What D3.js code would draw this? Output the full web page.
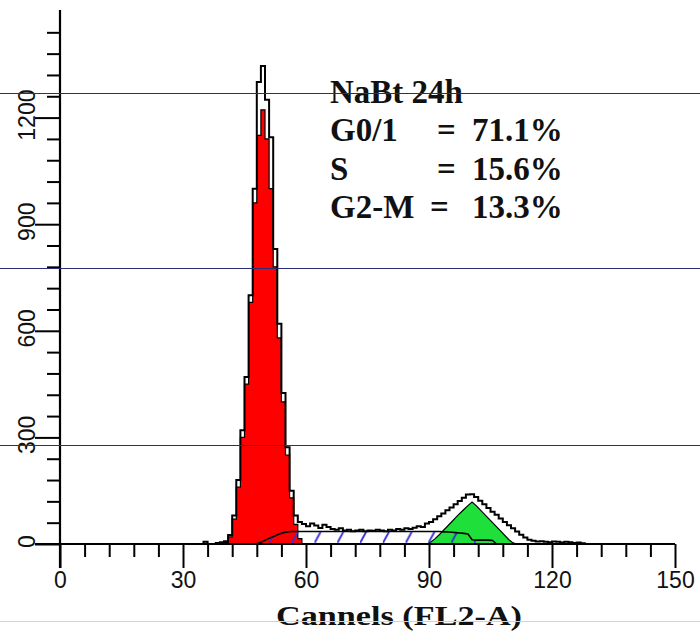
<!DOCTYPE html>
<html>
<head>
<meta charset="utf-8">
<script src="https://cdnjs.cloudflare.com/ajax/libs/d3/7.8.5/d3.min.js"></script>
<style>
body { margin: 0; background: #fff; }
</style>
</head>
<body>
<div id="chart"></div>
<script>
var svgWidth = 700;
var svgHeight = 639;

// raw histogram counts, one per channel, first one is channel 34
var dataStart = 34;
var dataCounts = [0, 6, 0, 0, 3, 5, 8, 25, 80, 180,
	320, 470, 700, 1000, 1300, 1345, 1250, 1145, 830, 620,
	425, 272, 150, 80, 62, 56, 50, 58, 52, 45,
	54, 48, 42, 40, 44, 38, 40, 36, 38, 40,
	36, 38, 37, 40, 38, 36, 40, 38, 42, 40,
	44, 42, 46, 50, 48, 58, 62, 70, 78, 86,
	95, 103, 112, 121, 130, 139, 140, 132, 122, 112,
	101, 91, 82, 72, 62, 53, 44, 35, 26, 18,
	12, 9, 7, 8, 6, 5, 7, 6, 4, 6,
	5, 3, 4, 2, 0];

// fitted G0/G1 peak (red)
var g1Start = 40;
var g1Counts = [4, 20, 70, 160, 300, 450, 680, 960, 1150, 1222,
	1140, 1000, 780, 580, 400, 250, 130, 55, 15, 0];

// fitted S phase (hatched)
var sStart = 47;
var sCounts = [0, 3, 8, 13, 18, 23, 28, 32, 34, 35,
	35, 35, 35, 35, 35, 35, 35, 35, 35, 35,
	35, 35, 35, 35, 35, 35, 35, 35, 35, 35,
	35, 35, 35, 35, 35, 35, 35, 35, 35, 35,
	35, 35, 35, 35, 35, 35, 34, 34, 33, 32,
	31, 30, 28, 12, 11, 11, 11, 11, 10, 0];

// fitted G2/M peak (green)
var g2Start = 89;
var g2Counts = [0, 6, 15, 26, 38, 50, 62, 74, 86, 97,
	108, 118, 108, 96, 84, 72, 60, 48, 36, 24,
	12, 3, 0];

var xMajorTicks = [0, 30, 60, 90, 120, 150];
var yMajorTicks = [0, 300, 600, 900, 1200];
var sampleTitle = "NaBt 24h";
var statLabels = ["G0/1", "S", "G2-M"];
var statValues = ["71.1%", "15.6%", "13.3%"];
var xTitle = "Cannels (FL2-A)";

// thin rules that run across the whole slide
var ruleLines = [
	{ y: 93.5, color: "#2c2c78" },
	{ y: 268.5, color: "#2c2c78" },
	{ y: 445.5, color: "#2c2c78" },
	{ y: 621.5, color: "#cfcfec" }
];

var svg = d3.select("#chart")
	.append("svg")
	.attr("width", svgWidth)
	.attr("height", svgHeight)
	.style("background", "#fff");

var x = d3.scaleLinear().domain([0, 150]).range([60, 675]);
var y = d3.scaleLinear().domain([0, 1500]).range([544, 11]);

function toBins(start, counts) {
	var bins = counts.map(function(v, i) { return { ch: start + i, v: v }; });
	bins.push({ ch: start + counts.length, v: 0 });
	return bins;
}

var stepArea = d3.area()
	.x(d => x(d.ch))
	.y0(y(0))
	.y1(d => y(d.v))
	.curve(d3.curveStepAfter);

var stepLine = d3.line()
	.x(d => x(d.ch))
	.y(d => y(d.v))
	.curve(d3.curveStepAfter);

var midArea = d3.area()
	.x(d => x(d.ch + 0.5))
	.y0(y(0))
	.y1(d => y(d.v));

var midLine = d3.line()
	.x(d => x(d.ch + 0.5))
	.y(d => y(d.v));

// hatch for the S phase
var defs = svg.append("defs");
var hatch = defs.append("pattern")
	.attr("id", "hatch")
	.attr("patternUnits", "userSpaceOnUse")
	.attr("x", x(0) + 4)
	.attr("y", y(0) - 13)
	.attr("width", (x(150) - x(0)) / 27)
	.attr("height", 13);
hatch.append("line")
	.attr("x1", 0).attr("y1", 12)
	.attr("x2", 6).attr("y2", 1)
	.attr("stroke", "#3a2ed6")
	.attr("stroke-width", 1.8);

var g1Data = toBins(g1Start, g1Counts);
var sData = sCounts.map((v, i) => ({ ch: sStart + i, v: v }));
var g2Data = g2Counts.map((v, i) => ({ ch: g2Start + i, v: v }));
var rawData = toBins(dataStart, dataCounts);

svg.append("path")
	.attr("d", stepArea(g1Data))
	.attr("fill", "#ff0000")
	.attr("stroke", "#000")
	.attr("stroke-width", 1.2);

svg.append("path")
	.attr("d", midArea(g2Data))
	.attr("fill", "#1fe03a")
	.attr("stroke", "#000")
	.attr("stroke-width", 1.2);

svg.append("path")
	.attr("d", midArea(sData))
	.attr("fill", "url(#hatch)");

svg.append("path")
	.attr("d", midLine(sData))
	.attr("fill", "none")
	.attr("stroke", "#000")
	.attr("stroke-width", 1.6);

svg.append("path")
	.attr("d", stepLine(rawData))
	.attr("fill", "none")
	.attr("stroke", "#000")
	.attr("stroke-width", 2);

// axes
var xMinor = d3.range(0, 151, 6).filter(v => xMajorTicks.indexOf(v) < 0);
var yMinor = d3.range(0, 1500, 60).filter(v => yMajorTicks.indexOf(v) < 0);

var xAxisG = svg.append("g")
	.attr("transform", `translate(0, ${y(0)})`);
xAxisG.append("g")
	.call(d3.axisBottom(x).tickValues(xMinor).tickSize(13).tickFormat(""))
	.call(g => g.select(".domain").remove());
xAxisG.append("g")
	.call(d3.axisBottom(x).tickValues(xMajorTicks).tickSize(24).tickPadding(4).tickFormat(d3.format("d")))
	.call(g => g.select(".domain").remove());

var yAxisG = svg.append("g")
	.attr("transform", `translate(${x(0)}, 0)`);
yAxisG.append("g")
	.call(d3.axisLeft(y).tickValues(yMinor).tickSize(13).tickFormat(""))
	.call(g => g.select(".domain").remove());
yAxisG.append("g")
	.call(d3.axisLeft(y).tickValues(yMajorTicks).tickSize(25).tickFormat(d3.format("d")))
	.call(g => g.select(".domain").remove())
	.selectAll("text")
	.attr("x", null)
	.attr("dy", null)
	.attr("text-anchor", "middle")
	.attr("transform", "translate(-25, -3) rotate(-90)");

svg.selectAll(".tick line")
	.attr("stroke", "#000")
	.attr("stroke-width", 2);
svg.selectAll(".tick text")
	.attr("font-family", "Liberation Sans, Arial, sans-serif")
	.attr("font-size", 23)
	.attr("fill", "#111");

// axis lines
svg.append("line")
	.attr("x1", x(0)).attr("x2", x(0))
	.attr("y1", y(1500) - 1).attr("y2", y(0) + 24)
	.attr("stroke", "#000").attr("stroke-width", 2.2);
svg.append("line")
	.attr("x1", x(0) - 25).attr("x2", x(150))
	.attr("y1", y(0)).attr("y2", y(0))
	.attr("stroke", "#000").attr("stroke-width", 2.2);

// stats text
var statsG = svg.append("g")
	.attr("font-family", "Liberation Serif, Times New Roman, serif")
	.attr("font-weight", "bold")
	.attr("font-size", 33)
	.attr("fill", "#111");

statsG.append("text")
	.attr("x", 330)
	.attr("y", 103)
	.text(sampleTitle);

statLabels.forEach(function(label, i) {
	var yPos = 141 + i * 38.5;
	statsG.append("text").attr("x", 330).attr("y", yPos).text(label);
	statsG.append("text").attr("x", label === "G2-M" ? 430 : 437).attr("y", yPos).text("=");
	statsG.append("text").attr("x", 472).attr("y", yPos).text(statValues[i]);
});

svg.append("text")
	.attr("x", 276)
	.attr("y", 625)
	.attr("font-family", "Liberation Serif, Times New Roman, serif")
	.attr("font-weight", "bold")
	.attr("font-size", 27)
	.attr("textLength", 246)
	.attr("lengthAdjust", "spacingAndGlyphs")
	.attr("fill", "#111")
	.text(xTitle);

svg.selectAll(".rule")
	.data(ruleLines)
	.enter()
	.append("line")
	.attr("class", "rule")
	.attr("x1", 0)
	.attr("x2", svgWidth)
	.attr("y1", d => d.y)
	.attr("y2", d => d.y)
	.attr("stroke", d => d.color)
	.attr("stroke-width", 1);
</script>
</body>
</html>
